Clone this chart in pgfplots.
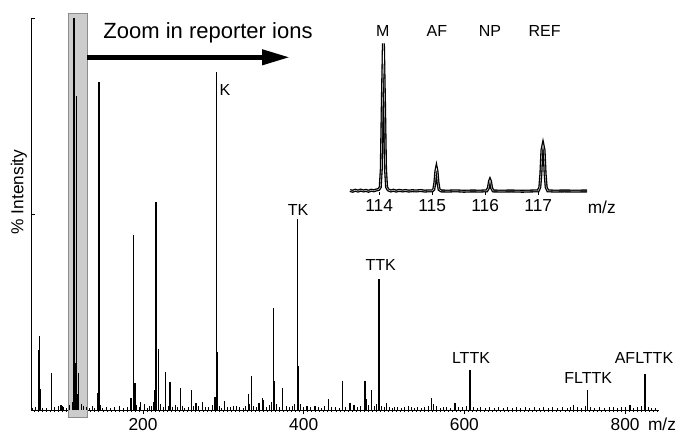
\documentclass[border=0pt]{standalone}
\usepackage{fontspec}
\setmainfont{Liberation Sans}
\usepackage{pgfplots}
\pgfplotsset{compat=1.18}
\usetikzlibrary{arrows.meta}
\newcommand\lab{\fontsize{12}{12}\selectfont}
\newcommand\tck{\fontsize{13}{13}\selectfont}

\begin{document}
\begin{tikzpicture}
\pgfplotsset{/pgf/number format/assume math mode=true}
% main spectrum, 1px = 0.75pt
\begin{axis}[
  at={(23.25pt,-307.5pt)}, anchor=south west,
  scale only axis, width=471pt, height=294pt,
  xmin=60.6, xmax=842.2, ymin=0, ymax=100,
  axis lines=left, axis line style={-, line width=0.6pt},
  xtick={200,400,600,800}, minor xtick={60,65,...,840},
  ytick={0,50,100}, yticklabels={},
  xtick align=outside, ytick align=inside,
  major tick length=3pt, minor tick length=1.5pt,
  tick style={black, line width=0.5pt},
  xticklabel style={font=\tck},
  clip=false]
\draw[fill=gray!40, draw=gray!90, line width=0.6pt] (axis cs:106.7,-2) rectangle (axis cs:130.3,101.3);
% baseline noise
\addplot[ycomb, black, line width=0.6pt, no markers] coordinates {
(62,0.5)(66,0.8)(75,0.6)(80,0.4)(90,0.7)(95,1.0)(97,1.4)(101,0.8)(105,0.5)(109,1.2)
(112,2.0)(113,3.5)(119,2.5)(123,1.5)(126,1.0)(129,0.8)(133,0.6)(137,0.9)(140,0.5)(147,1.2)
(150,0.6)(155,0.8)(160,0.5)(165,0.7)(170,0.9)(175,0.6)(180,0.8)(186,1.5)(192,1.2)(195,0.7)
(205,0.6)(208,0.9)(211,1.0)(213,2.0)(222,1.5)(225,0.8)(231,1.0)(237,0.7)(240,1.2)(243,0.8)
(249,0.9)(252,0.6)(256,0.8)(263,0.9)(269,1.0)(278,0.8)(282,0.7)(286,1.2)(295,1.0)(298,0.6)
(305,0.8)(309,0.7)(312,1.0)(320,0.8)(325,0.6)(328,0.9)(333,1.5)(338,1.0)(341,0.7)(353,0.8)
(357,1.2)(360,2.0)(366,1.5)(370,0.8)(378,1.0)(382,0.7)(386,0.9)(389,1.5)(396,1.5)(400,0.8)
(408,0.7)(418,0.8)(422,0.6)(426,0.9)(435,0.7)(440,0.8)(444,0.6)(452,0.8)(467,0.7)(471,0.9)
(481,1.2)(488,0.9)(491,1.5)(497,1.0)(500,0.7)(507,0.8)(510,0.6)(517,0.7)(521,0.6)(525,0.8)
(534,0.7)(538,0.6)(542,0.8)(546,0.6)(550,0.7)(555,1.0)(565,0.9)(570,0.6)(574,0.7)(583,0.6)
(593,0.8)(598,0.7)(603,1.0)(611,0.8)(616,0.6)(620,0.7)(626,0.6)(631,0.8)(637,0.6)(642,0.7)
(648,0.6)(653,0.8)(660,0.6)(665,0.7)(670,0.6)(676,0.8)(681,0.6)(687,0.7)(693,0.6)(698,0.8)
(704,0.6)(710,0.7)(716,0.6)(722,0.8)(728,0.6)(732,0.8)(740,0.7)(745,0.6)(750,1.0)(757,0.8)
(762,0.6)(768,0.7)(774,0.6)(785,0.7)(790,0.6)(796,0.7)(800,0.8)(810,0.6)(815,0.7)(820,1.0)
(829,0.8)(833,0.6)(838,0.5)};
% peaks
\addplot[ycomb, black, line width=0.95pt, no markers] coordinates {
(70.2,15.3)(71.4,18.9)(72.7,5.4)(86.0,9.5)(98.6,1.3)(99.5,1.0)
(114.1,100)(115.1,38)(116.1,12)(117.1,80)(118.2,4)(120.0,9.4)
(143.0,4.3)(145.1,83.7)
(185.0,3.0)(188.4,44.6)(190.0,7.0)(197.0,2.0)(202.0,1.5)
(214.5,5.0)(216.2,53.1)(219.0,15.5)
(228.0,9.8)(233.6,7.2)(246.5,5.6)(260.6,5.1)(266.0,1.9)(274.0,2.1)
(289.6,3.4)(291.1,86.1)(292.2,14.9)
(301.0,2.3)(316.6,1.0)
(331.0,4.0)(335.3,8.7)(344.5,1.9)(348.5,3.1)(350.0,2.5)
(362.6,25.9)(363.6,7.4)(374.0,5.6)
(392.4,48.7)(393.4,11.3)
(404.0,1.0)(414.0,1.0)(430.7,2.8)
(448.3,7.5)(457.6,1.9)(462.6,1.4)
(476.3,7.5)(477.4,2.7)(484.6,5.0)
(493.6,33.4)(494.6,9.6)
(503.0,1.7)(513.0,0.8)(530.0,1.1)
(559.3,3.0)(561.3,1.6)(578.0,0.7)(588.3,1.9)
(606.8,10.2)(607.8,3.7)
(735.5,1.2)(753.4,5.2)(781.0,0.8)(806.0,1.3)(824.6,9.2)(825.6,2.0)};
\node[font=\lab] at (axis cs:302.0,81.6) {K};
\node[font=\lab] at (axis cs:392.9,51.0) {TK};
\node[font=\lab] at (axis cs:495.8,37.0) {TTK};
\node[font=\lab] at (axis cs:608.2,13.3) {LTTK};
\node[font=\lab] at (axis cs:754.2,8.1) {FLTTK};
\node[font=\lab] at (axis cs:823.5,13.3) {AFLTTK};
\end{axis}

% inset: reporter ions
\begin{axis}[
  at={(262.5pt,-143.775pt)}, anchor=south west,
  scale only axis, width=177.75pt, height=111.3pt,
  xmin=113.45, xmax=117.92, ymin=0, ymax=100,
  hide y axis, axis x line*=bottom, x axis line style={draw=none},
  xtick={114,115,116,117}, xtick align=outside,
  major tick length=2.5pt, tick style={black, line width=0.5pt},
  xticklabel style={font=\tck},
  clip=false]
\addplot[black, line width=1pt, double=white, double distance=0.3pt, no markers] coordinates {
(113.45,0.8)(113.5,0.3)(113.55,1.0)(113.6,0.4)(113.65,1.1)(113.7,0.5)(113.75,0.9)(113.8,0.3)
(113.85,1.0)(113.9,0.6)(113.95,1.2)(113.99,1.5)
(114.02,3)(114.04,15)(114.06,60)(114.08,100)(114.10,60)(114.12,15)(114.14,3)
(114.17,1.2)(114.22,0.5)(114.27,1.0)(114.32,0.4)(114.38,0.9)(114.44,0.5)(114.5,0.8)(114.56,0.4)
(114.62,0.7)(114.7,0.5)(114.78,0.8)(114.86,0.4)(114.94,0.6)(115.0,0.5)
(115.03,1.5)(115.05,6)(115.07,14)(115.08,15.8)(115.09,14)(115.11,6)(115.13,1.5)
(115.17,0.5)(115.3,0.4)(115.45,0.6)(115.6,0.3)(115.75,0.5)(115.9,0.4)(116.03,0.6)
(116.06,2.5)(116.08,7)(116.09,7.9)(116.10,7)(116.12,2.5)
(116.15,0.5)(116.3,0.4)(116.5,0.5)(116.7,0.3)(116.9,0.5)(117.0,0.6)
(117.03,3)(117.05,12)(117.07,28)(117.09,31.5)(117.11,28)(117.13,12)(117.15,3)
(117.18,0.6)(117.3,0.4)(117.5,0.5)(117.7,0.4)(117.92,0.5)};
\node[font=\lab] at (axis cs:114.07,108.3) {M};
\node[font=\lab] at (axis cs:115.09,108.3) {AF};
\node[font=\lab] at (axis cs:116.09,108.3) {NP};
\node[font=\lab] at (axis cs:117.12,108.3) {REF};
\end{axis}

% overlays in pixel units
\begin{scope}[x=0.75pt, y=-0.75pt]
\path[use as bounding box] (0,0) rectangle (680,430);
\draw[line width=3.75pt, -{Triangle[length=21pt, width=11pt]}] (87,57.3) -- (290,57.3);
\node[font=\fontsize{16.5}{16.5}\selectfont] at (208,33) {Zoom in reporter ions};
\node[font=\tck, rotate=90] at (19,192) {\% Intensity};
\node[font=\tck] at (662,424) {m/z};
\node[font=\tck] at (601.7,207) {m/z};
\end{scope}
\end{tikzpicture}
\end{document}
